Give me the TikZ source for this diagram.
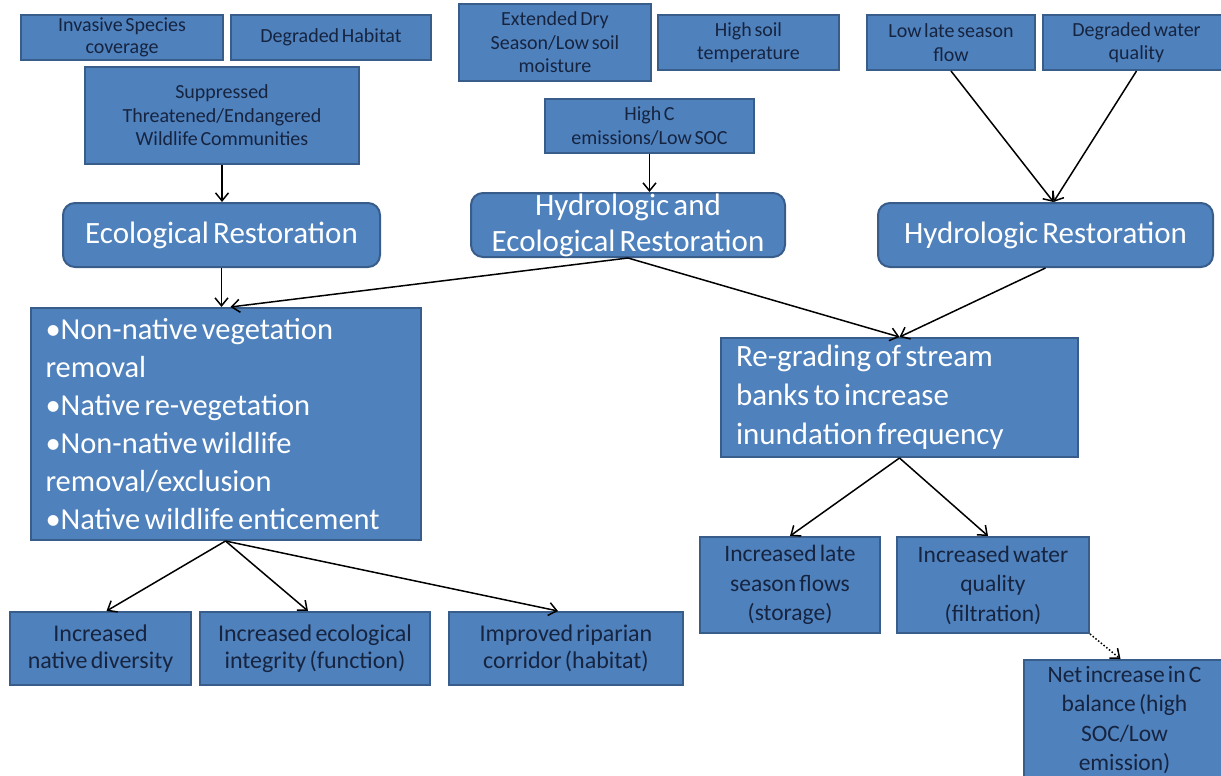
\documentclass[tikz,border=0pt]{standalone}
\usepackage{fontspec}
\setmainfont{Carlito}[WordSpace=0.6]
\usetikzlibrary{arrows.meta}
\definecolor{boxfill}{RGB}{79,129,189}
\definecolor{boxedge}{RGB}{56,93,138}
\definecolor{ink}{RGB}{22,36,64}
\tikzset{ c/.style = { rectangle % cause
, draw = boxedge
, line width = 2pt
, fill = boxfill
, inner sep = 0pt
, align = center
, text = ink
, font = \fontsize{20}{23.5}\selectfont
}
, r/.style = { c % restoration
, rounded corners = 12pt
, text = white
, font = \fontsize{31}{36}\selectfont
}
, t/.style = { c % treatment
, text = white
, align = flush left
, inner xsep = 15pt
}
, o/.style = { c % outcome
, font = \fontsize{24}{27}\selectfont
}
, a/.style = { -{Straight Barb[length=8pt,width=13pt]} % arrow
, line width = 1.5pt
}
}
\def\bx#1#2(#3,#4)(#5,#6)#7{% box by corners
\node[#1, minimum width={#5-#3}, minimum height={#6-#4}] (#2) at ({(#3+#5)/2},{(#4+#6)/2}) {#7};
}

\begin{document}
\begin{tikzpicture}[x=1pt, y=-1pt]
                    \useasboundingbox (0,0) rectangle (1221,776);
                    \clip (0,0) rectangle (1221,776);
                    % causes
                    \bx{c, font=\fontsize{20}{22}\selectfont}{inv}(21,15)(223,60){Invasive Species\\coverage}
                    \bx{c}{deg}(231,15)(431,60){Degraded Habitat}
                    \bx{c}{sup}(85,67)(359,164){Suppressed\\Threatened/Endangered\\Wildlife Communities}
                    \bx{c}{dry}(459,4)(651,81){Extended Dry\\Season/Low soil\\moisture}
                    \bx{c}{hot}(658,15)(839,70){High soil\\temperature}
                    \bx{c}{hic}(545,99)(754,153){High C\\emissions/Low SOC}
                    \bx{c}{low}(867,15)(1035,70){Low late season\\flow}
                    \bx{c}{dwq}(1043,15)(1230,70){Degraded water\\quality}
                    % restoration
                    \bx{r}{eco}(63,203)(380,267){Ecological Restoration}
                    \bx{r}{heco}(471,193)(785,257){Hydrologic and\\Ecological Restoration}
                    \bx{r}{hyd}(878,203)(1213,267){Hydrologic Restoration}
                    % treatments
                    \bx{t, text width=360pt, font=\fontsize{30.5}{38}\selectfont}{acts}(31,308)(420,540){%
                        •Non-native vegetation\\removal\\•Native re-vegetation\\•Non-native wildlife\\removal/exclusion\\•Native wildlife enticement}
                    \bx{t, text width=327pt, font=\fontsize{31}{39}\selectfont}{regr}(721,338)(1078,457){%
                        Re-grading of stream\\banks to increase\\inundation frequency}
                    % outcomes
                    \bx{o}{div}(10,612)(191,685){Increased\\native diversity}
                    \bx{o}{integ}(200,612)(430,685){Increased ecological\\integrity (function)}
                    \bx{o}{rip}(449,612)(683,685){Improved riparian\\corridor (habitat)}
                    \bx{o, font=\fontsize{23.5}{29.5}\selectfont}{flow}(700,537)(880,633){Increased late\\season flows\\(storage)}
                    \bx{o, font=\fontsize{23.5}{29.5}\selectfont}{qual}(897,537)(1089,633){Increased water\\quality\\(filtration)}
                    \bx{o, font=\fontsize{23.5}{29.5}\selectfont}{net}(1024,660)(1225,780){Net increase in C\\balance (high\\SOC/Low\\emission)}
                    % arrows
                    \draw[a] (sup.south) -- (sup.south |- eco.north);
                    \draw[a] (hic.south) -- (hic.south |- heco.north);
                    \draw[a] (low.south) -- ([xshift=8pt]hyd.north);
                    \draw[a] (dwq.south) -- ([xshift=8pt]hyd.north);
                    \draw[a] (eco.south) -- (eco.south |- acts.north);
                    \draw[a] (heco.south) -- ([xshift=5pt]acts.north);
                    \draw[a] (heco.south) -- (regr.north);
                    \draw[a] (hyd.south) -- (regr.north);
                    \draw[a] (acts.south) -- ([xshift=6pt]div.north);
                    \draw[a] (acts.south) -- ([xshift=-7pt]integ.north);
                    \draw[a] (acts.south) -- ([xshift=-8pt]rip.north);
                    \draw[a] (regr.south) -- (flow.north);
                    \draw[a] (regr.south) -- ([xshift=-5pt]qual.north);
                    \draw[a, dotted] (qual.south east) -- ([xshift=-4pt]net.north);
                \end{tikzpicture}
\end{document}
